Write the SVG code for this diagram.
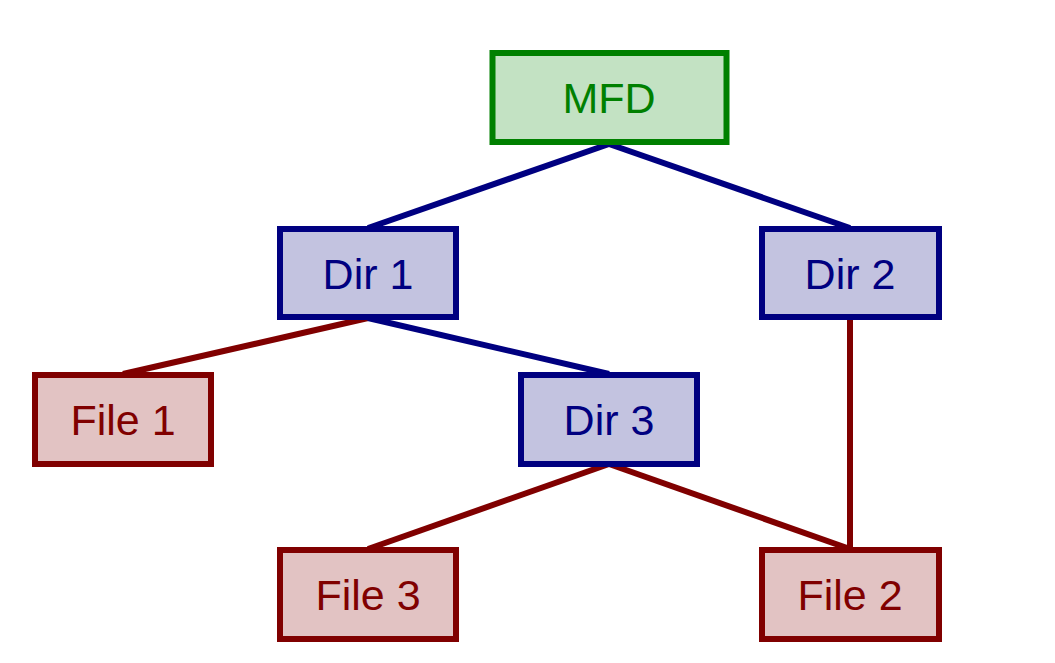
<svg xmlns="http://www.w3.org/2000/svg" width="1055" height="663" viewBox="0 0 1055 663">
<style>
.g rect{fill:#c3e2c3;stroke:#008000;stroke-width:6}
.b rect{fill:#c3c3e0;stroke:#000080;stroke-width:6}
.r rect{fill:#e2c3c3;stroke:#800000;stroke-width:6}
text{font-family:"Liberation Sans",Arial,sans-serif;font-size:43px;text-anchor:middle}
.g text{fill:#008000}
.b text{fill:#000080}
.r text{fill:#800000}
.cb{stroke:#000080;stroke-width:6;fill:none}
.cr{stroke:#800000;stroke-width:6;fill:none}
</style>
<rect width="1055" height="663" fill="#fff"/>
<g id="connectors">
<line class="cb" x1="609" y1="144" x2="368" y2="228"/>
<line class="cb" x1="609" y1="144" x2="850" y2="228"/>
<line class="cr" x1="368" y1="318" x2="123" y2="374"/>
<line class="cb" x1="368" y1="318" x2="609" y2="374"/>
<line class="cr" x1="850" y1="318" x2="850" y2="549"/>
<line class="cr" x1="609" y1="464" x2="368" y2="549"/>
<line class="cr" x1="609" y1="464" x2="850" y2="549"/>
</g>
<g id="mfd" class="g"><rect x="492.5" y="53" width="234" height="89"/><text x="609" y="113">MFD</text></g>
<g id="dir1" class="b"><rect x="280" y="229" width="176" height="88"/><text x="368" y="289">Dir 1</text></g>
<g id="dir2" class="b"><rect x="762" y="229" width="177" height="88"/><text x="850" y="289">Dir 2</text></g>
<g id="file1" class="r"><rect x="35" y="375" width="176" height="89"/><text x="123" y="435">File 1</text></g>
<g id="dir3" class="b"><rect x="521" y="375" width="176" height="89"/><text x="609" y="435">Dir 3</text></g>
<g id="file3" class="r"><rect x="280" y="550" width="176" height="89"/><text x="368" y="610">File 3</text></g>
<g id="file2" class="r"><rect x="762" y="550" width="177" height="89"/><text x="850" y="610">File 2</text></g>
</svg>
